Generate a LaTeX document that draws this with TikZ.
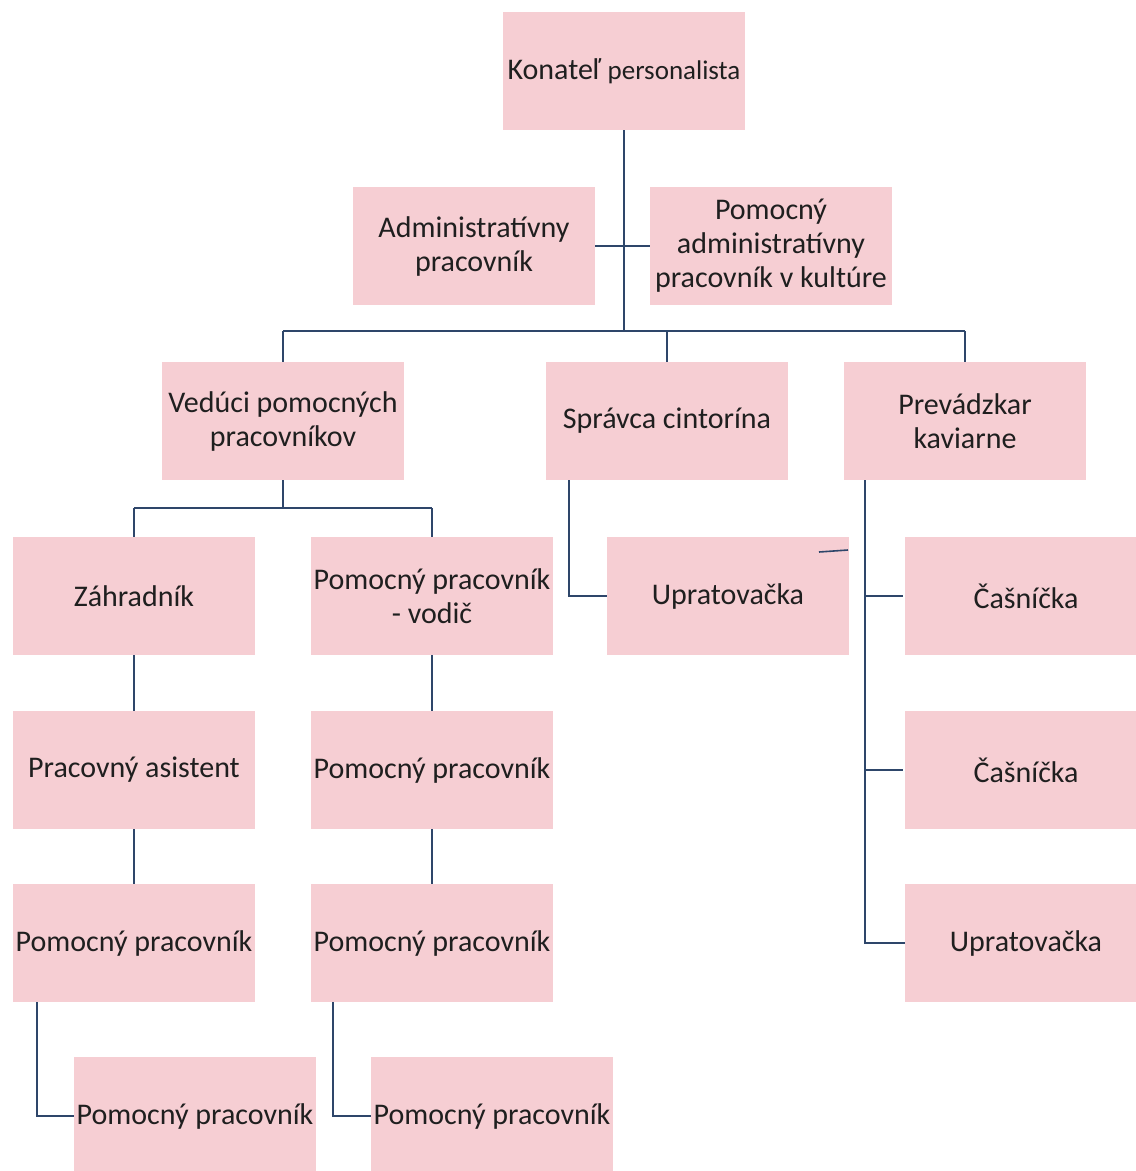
\documentclass[tikz,border=0pt]{standalone}
\usepackage{fontspec}
\setmainfont{Carlito}
\usepackage{tikz}
\usetikzlibrary{positioning,calc}
\definecolor{ruzova}{RGB}{246,206,211}
\definecolor{ciara}{RGB}{46,70,106}
\tikzset{
	funkcia/.style={fill=ruzova, minimum width=242pt, minimum height=118pt, inner sep=0pt, align=center, text=black!88, font=\fontsize{30}{34}\selectfont},
	spoj/.style={draw=ciara, line width=2.6pt}
}

\begin{document}
\begin{tikzpicture}[x=1pt,y=-1pt]
	
	\useasboundingbox (0,0) rectangle (1136,1171);
	\clip (0,0) rectangle (1136,1171); % boxes at the edges are cut
	
	%Vedenie
	\node[funkcia] (kon) at (624,71) {Konateľ {\fontsize{27}{34}\selectfont personalista}};
	\node[funkcia] (adm) at (474,246) {Administratívny\\pracovník};
	\node[funkcia] (pad) at (771,246) {Pomocný\\administratívny\\pracovník v kultúre};
	
	%Druha uroven
	\node[funkcia] (ved) at (283,421) {Vedúci pomocných\\pracovníkov};
	\node[funkcia] (spr) at (667,421) {Správca cintorína};
	\node[funkcia] (pre) at (965,421) {Prevádzkar\\kaviarne};
	
	%Pomocni pracovnici
	\node[funkcia] (zah) at (134,596) {Záhradník};
	\node[funkcia] (asi) at (134,770) {Pracovný asistent};
	\node[funkcia] (pp1) at (134,943) {Pomocný pracovník};
	\node[funkcia] (vod) at (432,596) {Pomocný pracovník\\- vodič};
	\node[funkcia] (pp2) at (432,770) {Pomocný pracovník};
	\node[funkcia] (pp3) at (432,943) {Pomocný pracovník};
	\node[funkcia] (pp5) at (195,1116) {Pomocný pracovník};
	\node[funkcia] (pp6) at (492,1116) {Pomocný pracovník};
	
	%Cintorin a kaviaren
	\node[funkcia] (upr) at (728,596) {Upratovačka};
	\node[funkcia] (cas1) at (1026,596) {Čašníčka};
	\node[funkcia] (cas2) at (1026,770) {Čašníčka};
	\node[funkcia] (upr2) at (1026,943) {Upratovačka};
	
	%Zbernice
	\coordinate (busL) at (283,331);
	\coordinate (busR) at (965,331);
	\coordinate (bus2L) at (134,508);
	\coordinate (bus2R) at (432,508);
	\coordinate (kmen) at ([xshift=21pt]pre.south west);
	
	%Spoje
	\draw[spoj] (kon.south) -- (kon.south |- busL);
	\draw[spoj] (adm.east) -- (pad.west);
	\draw[spoj] (busL) -- (busR);
	\draw[spoj] (busL) -- (ved.north);
	\draw[spoj] (spr.north |- busL) -- (spr.north);
	\draw[spoj] (busR) -- (pre.north);
	
	\draw[spoj] (ved.south) -- (ved.south |- bus2L);
	\draw[spoj] (bus2L) -- (bus2R);
	\draw[spoj] (bus2L) -- (zah.north);
	\draw[spoj] (bus2R) -- (vod.north);
	
	\draw[spoj] (zah.south) -- (asi.north);
	\draw[spoj] (asi.south) -- (pp1.north);
	\draw[spoj] (vod.south) -- (pp2.north);
	\draw[spoj] (pp2.south) -- (pp3.north);
	\draw[spoj] ([xshift=24pt]pp1.south west) |- (pp5.west);
	\draw[spoj] ([xshift=22pt]pp3.south west) |- (pp6.west);
	
	\draw[spoj] ([xshift=23pt]spr.south west) |- (upr.west);
	\draw[spoj, line width=1.6pt] (819,552) -- (848,550); % tah navyse
	
	\draw[spoj] (kmen) |- (upr2.west);
	\draw[spoj] (kmen |- cas1) -- ([xshift=-2pt]cas1.west);
	\draw[spoj] (kmen |- cas2) -- ([xshift=-2pt]cas2.west);
	
\end{tikzpicture}
\end{document}
